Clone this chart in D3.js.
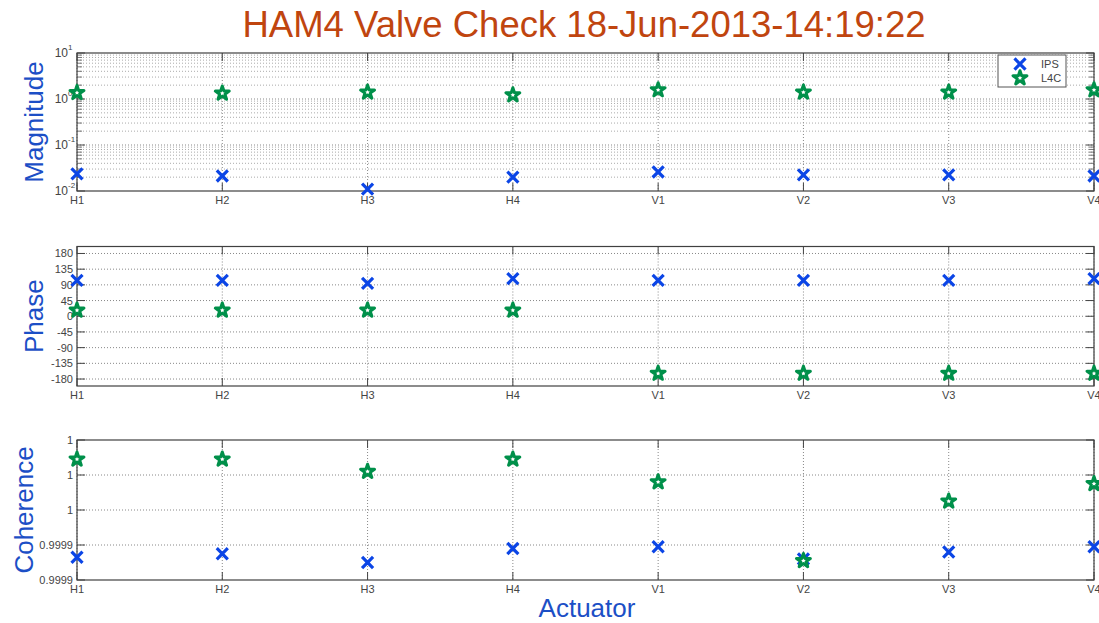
<!DOCTYPE html>
<html>
<head>
<meta charset="utf-8">
<script src="https://cdn.jsdelivr.net/npm/d3@7"></script>
<style>
  body { margin: 0; background: #fff; }
  text { font-family: "Liberation Sans", Arial, sans-serif; }
</style>
</head>
<body>
<svg id="chart" width="1099" height="623"></svg>
<script>
// data
var actuators = ["H1", "H2", "H3", "H4", "V1", "V2", "V3", "V4"];
var ipsMag = [0.0235, 0.0212, 0.011, 0.020, 0.0259, 0.0223, 0.0223, 0.0212];
var l4cMag = [1.37, 1.33, 1.40, 1.22, 1.57, 1.40, 1.40, 1.57];
var ipsPhase = [103, 103, 94, 108, 103, 103, 103, 108];
var l4cPhase = [17, 17, 17, 17, -164, -164, -164, -164];
var ipsCoh = [0.999933, 0.999935, 0.999930, 0.999938, 0.999939, 0.999932, 0.999936, 0.999939];
var l4cCoh = [0.999989, 0.999989, 0.999982, 0.999989, 0.999976, 0.999931, 0.999965, 0.999975];
var phaseTicks = [-180, -135, -90, -45, 0, 45, 90, 135, 180];
var cohTicks = [0.99992, 0.99994, 0.99996, 0.99998, 1.0];
var magTicks = [0.01, 0.1, 1, 10];

var blue = "#0b45e6", green = "#00904a", labelBlue = "#1c4fc6";
var svg = d3.select("#chart");
var left = 77, right = 1094;

var x = d3.scalePoint().domain(actuators).range([left, right]);

svg.append("text")
  .attr("x", 584).attr("y", 37)
  .attr("text-anchor", "middle")
  .style("font-size", "36.5px").style("fill", "#c0450f")
  .text("HAM4 Valve Check 18-Jun-2013-14:19:22");

function dotted(g, x1, y1, x2, y2, col) {
  g.append("line").attr("x1", x1).attr("y1", y1).attr("x2", x2).attr("y2", y2)
    .attr("stroke", col || "#888").attr("stroke-width", 1).attr("stroke-dasharray", "1,2");
}

function panel(top, bottom, y, majors, minors, fmt, label, labelX, ips, l4c) {
  var g = svg.append("g");
  // vertical grid
  actuators.forEach(function(a) { dotted(g, x(a), top, x(a), bottom); });
  minors.forEach(function(v) { dotted(g, left, y(v), right, y(v), "#aaa"); });
  majors.forEach(function(v) {
    if (Math.abs(y(v) - top) > 1 && Math.abs(y(v) - bottom) > 1) dotted(g, left, y(v), right, y(v));
  });
  // ticks
  majors.forEach(function(v) {
    g.append("line").attr("x1", left).attr("x2", left + 8).attr("y1", y(v)).attr("y2", y(v)).attr("stroke", "#444");
    g.append("line").attr("x1", right - 8).attr("x2", right).attr("y1", y(v)).attr("y2", y(v)).attr("stroke", "#444");
  });
  minors.forEach(function(v) {
    g.append("line").attr("x1", left).attr("x2", left + 5).attr("y1", y(v)).attr("y2", y(v)).attr("stroke", "#777");
    g.append("line").attr("x1", right - 5).attr("x2", right).attr("y1", y(v)).attr("y2", y(v)).attr("stroke", "#777");
  });
  actuators.forEach(function(a) {
    g.append("line").attr("x1", x(a)).attr("x2", x(a)).attr("y1", bottom).attr("y2", bottom - 8).attr("stroke", "#444");
    g.append("line").attr("x1", x(a)).attr("x2", x(a)).attr("y1", top).attr("y2", top + 8).attr("stroke", "#444");
    g.append("text").attr("x", x(a)).attr("y", bottom + 13)
      .attr("text-anchor", "middle").style("font-size", "11px").style("fill", "#444").text(a);
  });
  // y tick labels
  majors.forEach(function(v) { fmt(g, v, y(v)); });
  g.append("rect").attr("x", left).attr("y", top).attr("width", right - left).attr("height", bottom - top)
    .attr("fill", "none").attr("stroke", "#404040").attr("stroke-width", 1.2);
  g.append("text")
    .attr("transform", "translate(" + labelX + "," + ((top + bottom) / 2) + ") rotate(-90)")
    .attr("text-anchor", "middle").style("font-size", "26px").style("fill", labelBlue).text(label);
  // markers
  var times = d3.symbol(d3.symbolTimes, 81), star = d3.symbol(d3.symbolStar, 60);
  g.selectAll(".ips").data(ips).enter().append("path")
    .attr("d", times).attr("transform", function(d, i) { return "translate(" + x(actuators[i]) + "," + y(d) + ")"; })
    .attr("fill", "none").attr("stroke", blue).attr("stroke-width", 3.2);
  g.selectAll(".l4c").data(l4c).enter().append("path")
    .attr("d", star).attr("transform", function(d, i) { return "translate(" + x(actuators[i]) + "," + y(d) + ")"; })
    .attr("fill", "#fff").attr("stroke", green).attr("stroke-width", 3).attr("stroke-linejoin", "round");
  return g;
}

// magnitude (log)
var yMag = d3.scaleLog().domain([0.01, 10]).range([191, 53]);
var magMinors = [];
[0.01, 0.1, 1].forEach(function(d) { for (var k = 2; k <= 9; k++) magMinors.push(d * k); });
panel(53, 191, yMag, magTicks, magMinors, function(g, v, yy) {
  g.append("text").attr("x", 68).attr("y", yy + 4).attr("text-anchor", "end")
    .style("font-size", "12px").style("fill", "#444").text("10");
  g.append("text").attr("x", 68).attr("y", yy - 3).style("font-size", "8px").style("fill", "#444")
    .text(Math.round(Math.log10(v)));
}, "Magnitude", 43, ipsMag, l4cMag);

// legend
var lg = svg.append("g");
lg.append("rect").attr("x", 998).attr("y", 55).attr("width", 68).attr("height", 32)
  .attr("fill", "#fff").attr("stroke", "#555");
lg.append("path").attr("d", d3.symbol(d3.symbolTimes, 81)).attr("transform", "translate(1020,64)")
  .attr("fill", "none").attr("stroke", blue).attr("stroke-width", 3.2);
lg.append("path").attr("d", d3.symbol(d3.symbolStar, 60)).attr("transform", "translate(1020,78)")
  .attr("fill", "#fff").attr("stroke", green).attr("stroke-width", 3).attr("stroke-linejoin", "round");
lg.append("text").attr("x", 1041).attr("y", 68).style("font-size", "11px").style("fill", "#444").text("IPS");
lg.append("text").attr("x", 1041).attr("y", 82).style("font-size", "11px").style("fill", "#444").text("L4C");

// phase
var yPh = d3.scaleLinear().domain([-200, 200]).range([386, 246.5]);
panel(246.5, 386, yPh, phaseTicks, [], function(g, v, yy) {
  g.append("text").attr("x", 73).attr("y", yy + 4).attr("text-anchor", "end")
    .style("font-size", "11px").style("fill", "#444").text(v);
}, "Phase", 43, ipsPhase, l4cPhase);

// coherence
var yCoh = d3.scaleLinear().domain([0.99992, 1.0]).range([580, 440]);
var cohFmt = d3.format(".4~g");
panel(440, 580, yCoh, cohTicks, [], function(g, v, yy) {
  g.append("text").attr("x", 73).attr("y", yy + 4).attr("text-anchor", "end")
    .style("font-size", "11px").style("fill", "#444").text(cohFmt(v));
}, "Coherence", 33, ipsCoh, l4cCoh);

svg.append("text").attr("x", 587).attr("y", 617).attr("text-anchor", "middle")
  .style("font-size", "26px").style("fill", labelBlue).text("Actuator");
</script>
</body>
</html>
